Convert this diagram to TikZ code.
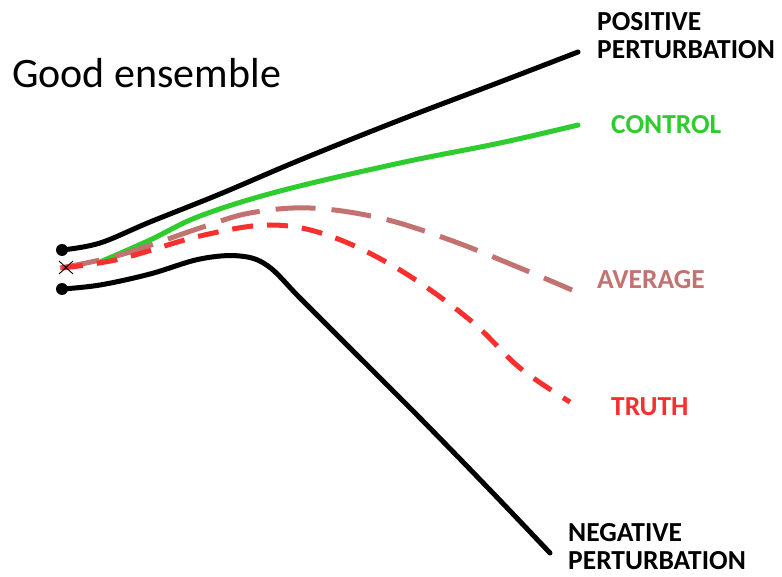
\documentclass[tikz,border=0pt]{standalone}
\usepackage{fontspec}
\setmainfont{Carlito}
\definecolor{ctrlgreen}{HTML}{2ECC2E}
\definecolor{avgcol}{HTML}{C27270}
\definecolor{truthred}{HTML}{F82F2F}
\tikzset{
  curve/.style={line width=5pt, line cap=round, line join=round},
  lbl/.style={font=\bfseries\fontsize{27.5}{28}\selectfont, anchor=west, align=left, inner sep=0pt},
}
\begin{document}
\begin{tikzpicture}[x=1pt,y=-1pt]
\useasboundingbox (0,0) rectangle (782,577);
\fill[white] (0,0) rectangle (782,577);
% title
\node[anchor=west, inner sep=0pt, font=\fontsize{42}{48}\selectfont] (title) at (12,73) {Good ensemble};
% positive perturbation
\draw[curve, black] plot[smooth, tension=0.6] coordinates {(62,250) (100,243) (150,222) (220,194) (300,160) (400,120) (500,82) (578,52)};
% negative perturbation
\draw[curve, black] plot[smooth, tension=0.6] coordinates {(62,289) (100,285) (150,274) (200,259) (240,256) (268,266) (300,298) (350,348) (420,418) (490,490) (550,553)};
% control
\draw[curve, ctrlgreen] plot[smooth, tension=0.6] coordinates {(100,262) (150,240) (200,216) (280,191) (400,163) (500,143) (578,125)};
% average
\draw[curve, avgcol, line cap=butt, dash pattern=on 40pt off 16pt] plot[smooth, tension=0.6] coordinates {(60,268) (120,255) (200,228) (250,213) (310,208) (380,218) (450,240) (520,268) (572,290)};
% truth
\draw[curve, truthred, line cap=butt, dash pattern=on 21pt off 14pt] plot[smooth, tension=0.6] coordinates {(62,268) (120,259) (200,236) (270,225) (330,236) (400,270) (470,320) (520,368) (570,402)};
% start markers
\fill[black] (62,250) circle (6);
\fill[black] (62,289) circle (6);
\draw[black, line width=0.9pt] (59,261) -- (73,274) (59,274) -- (73,261);
% labels
\node[lbl] (pos) at (597,36) {POSITIVE\\PERTURBATION};
\node[lbl, text=ctrlgreen] (ctrl) at (611,125) {CONTROL};
\node[lbl, text=avgcol] (avg) at (597,280) {AVERAGE};
\node[lbl, text=truthred] (truth) at (611,407) {TRUTH};
\node[lbl] (neg) at (568,547) {NEGATIVE\\PERTURBATION};
\end{tikzpicture}
\end{document}
